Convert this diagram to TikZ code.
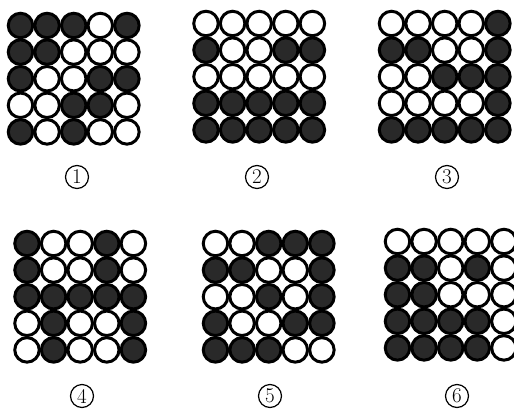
\documentclass[tikz,border=0pt]{standalone}
\usepackage{tikz}
\colorlet{beadB}{black!84}
\colorlet{beadW}{white}

% one 5x5 board of beads: #1 name, #2 centre of top-left bead, #3 rows
\newcommand{\beadboard}[3]{%
  \foreach \row [count=\r] in {#3} {
    \foreach \c [count=\k] in \row {
      \node[bead, fill=bead\c] (#1-\r-\k) at ($(#2)+(\k*26.6-26.6,\r*26.6-26.6)$) {};
    }
  }
}

\usetikzlibrary{calc}

\begin{document}
\begin{tikzpicture}[
    x=1pt, y=-1pt,
    bead/.style={circle, draw=black, line width=3pt, minimum size=24.5pt, inner sep=0pt},
    tag/.style={circle, draw=black, line width=1.2pt, inner sep=0pt, minimum size=23pt,
                font=\fontsize{21}{21}\selectfont},
  ]
  \clip (0,0) rectangle (514,410);

  \coordinate (o1) at (20.5,25.5);
  \coordinate (o2) at (206,23.5);
  \coordinate (o3) at (391.5,23.5);
  \coordinate (o4) at (27,243.5);
  \coordinate (o5) at (215.5,243.5);
  \coordinate (o6) at (397.5,241.5);

  \beadboard{a}{o1}{{B,B,B,W,B},{B,B,W,W,W},{B,W,W,B,B},{W,W,B,B,W},{B,W,B,W,W}}
  \beadboard{b}{o2}{{W,W,W,W,W},{B,W,W,B,B},{W,W,W,W,W},{B,B,B,B,B},{B,B,B,B,B}}
  \beadboard{c}{o3}{{W,W,W,W,B},{B,B,W,W,B},{W,W,B,B,B},{W,W,W,W,B},{B,B,B,B,B}}
  \beadboard{d}{o4}{{B,W,W,B,W},{B,W,W,B,W},{B,B,B,B,B},{W,B,W,W,B},{W,B,W,W,B}}
  \beadboard{e}{o5}{{W,W,B,B,B},{B,B,W,W,B},{W,W,B,W,B},{B,W,W,B,B},{B,B,B,W,W}}
  \beadboard{f}{o6}{{W,W,W,W,W},{B,B,W,B,W},{B,B,W,W,W},{B,B,B,B,W},{B,B,B,B,W}}

  % labels under the boards
  \node[tag] (t1) at (77,177) {1};
  \node[tag] (t2) at (257,177) {2};
  \node[tag] (t3) at (447,177) {3};
  \node[tag] (t4) at (82,396) {4};
  \node[tag] (t5) at (270,396) {5};
  \node[tag] (t6) at (457,396) {6};
\end{tikzpicture}
\end{document}
